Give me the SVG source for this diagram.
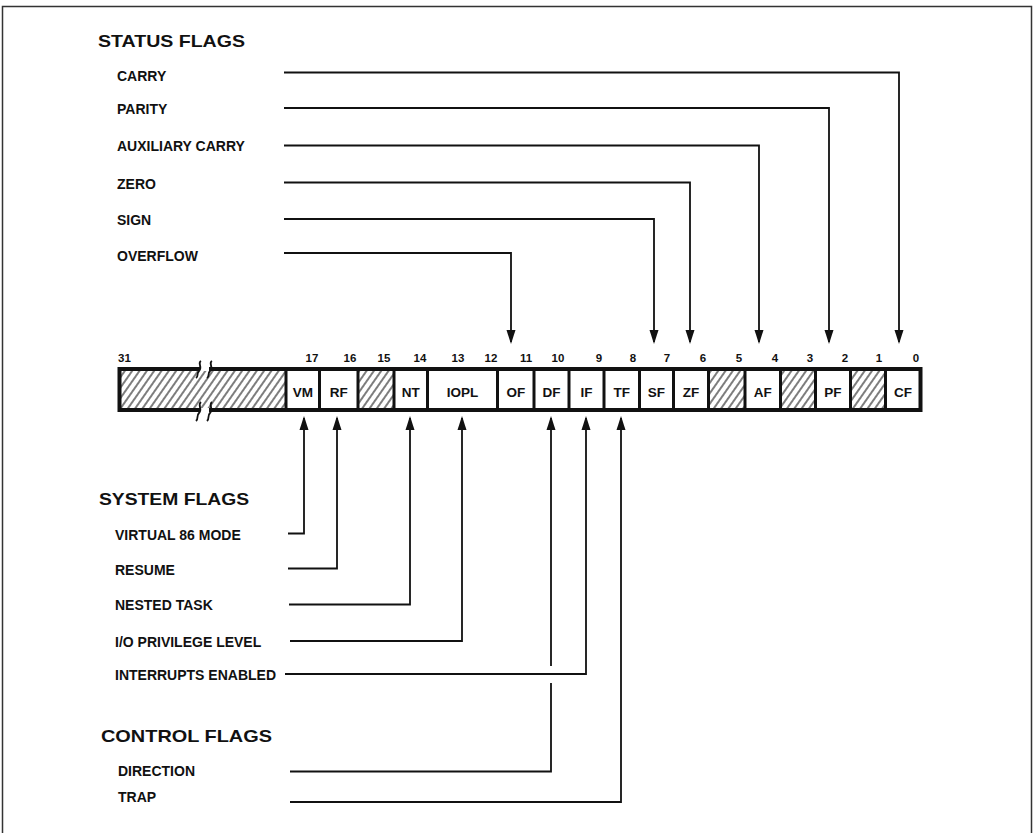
<svg xmlns="http://www.w3.org/2000/svg" width="1035" height="833" viewBox="0 0 1035 833">
<defs>
<pattern id="hatch" patternUnits="userSpaceOnUse" width="6" height="6" patternTransform="rotate(35)">
<line x1="3" y1="-1" x2="3" y2="7" stroke="#111" stroke-width="1.1"/>
</pattern>
<marker id="arr" markerUnits="userSpaceOnUse" markerWidth="16" markerHeight="10" refX="12" refY="4.5" orient="auto" overflow="visible">
<path d="M0,0 L14,4.5 L0,9 Z" fill="#111"/>
</marker>
<style>
.t{font-family:"Liberation Sans",Arial,Helvetica,sans-serif;font-weight:bold;fill:#111}
.lbl{font-size:14px}
.hd{font-size:17px}
.num{font-size:11.5px;text-anchor:middle}
.cl{font-size:13.5px;text-anchor:middle}
.conn{fill:none;stroke:#111;stroke-width:1.8}
.dv{stroke:#111;stroke-width:3}
.hx{fill:url(#hatch)}
.frame{fill:none;stroke:#333;stroke-width:1.5}
</style>
</defs>
<rect width="1035" height="833" fill="#fff"/>
<path class="frame" d="M2.5,833 V6.5 H1031.5 V833"/>

<g id="headings">
<text class="t hd" x="98" y="47" textLength="147" lengthAdjust="spacingAndGlyphs">STATUS FLAGS</text>
<text class="t hd" x="99" y="505" textLength="150" lengthAdjust="spacingAndGlyphs">SYSTEM FLAGS</text>
<text class="t hd" x="101" y="742" textLength="171" lengthAdjust="spacingAndGlyphs">CONTROL FLAGS</text>
</g>

<g id="lbl-carry"><text class="t lbl" x="117" y="81">CARRY</text></g>
<g id="lbl-parity"><text class="t lbl" x="117" y="114">PARITY</text></g>
<g id="lbl-aux"><text class="t lbl" x="117" y="151">AUXILIARY CARRY</text></g>
<g id="lbl-zero"><text class="t lbl" x="117" y="189">ZERO</text></g>
<g id="lbl-sign"><text class="t lbl" x="117" y="225">SIGN</text></g>
<g id="lbl-overflow"><text class="t lbl" x="117" y="261">OVERFLOW</text></g>

<g id="lbl-vm"><text class="t lbl" x="115" y="540">VIRTUAL 86 MODE</text></g>
<g id="lbl-resume"><text class="t lbl" x="115" y="575">RESUME</text></g>
<g id="lbl-nt"><text class="t lbl" x="115" y="610">NESTED TASK</text></g>
<g id="lbl-iopl"><text class="t lbl" x="115" y="646.5">I/O PRIVILEGE LEVEL</text></g>
<g id="lbl-ie"><text class="t lbl" x="115" y="680">INTERRUPTS ENABLED</text></g>
<g id="lbl-dir"><text class="t lbl" x="118" y="776">DIRECTION</text></g>
<g id="lbl-trap"><text class="t lbl" x="118" y="802">TRAP</text></g>

<g id="register">
<rect class="hx" x="119.5" y="369" width="166.5" height="41"/>
<rect class="hx" x="358" y="369" width="36" height="41"/>
<rect class="hx" x="708.5" y="369" width="36.5" height="41"/>
<rect class="hx" x="780.5" y="369" width="35" height="41"/>
<rect class="hx" x="850.5" y="369" width="35" height="41"/>
<rect x="119.5" y="369" width="801" height="41" fill="none" stroke="#111" stroke-width="4"/>
<g id="dividers">
<line class="dv" x1="286" y1="369" x2="286" y2="410"/>
<line class="dv" x1="319.5" y1="369" x2="319.5" y2="410"/>
<line class="dv" x1="358" y1="369" x2="358" y2="410"/>
<line class="dv" x1="394" y1="369" x2="394" y2="410"/>
<line class="dv" x1="427.5" y1="369" x2="427.5" y2="410"/>
<line class="dv" x1="497.5" y1="369" x2="497.5" y2="410"/>
<line class="dv" x1="534" y1="369" x2="534" y2="410"/>
<line class="dv" x1="569" y1="369" x2="569" y2="410"/>
<line class="dv" x1="604" y1="369" x2="604" y2="410"/>
<line class="dv" x1="639.5" y1="369" x2="639.5" y2="410"/>
<line class="dv" x1="673.5" y1="369" x2="673.5" y2="410"/>
<line class="dv" x1="708.5" y1="369" x2="708.5" y2="410"/>
<line class="dv" x1="745" y1="369" x2="745" y2="410"/>
<line class="dv" x1="780.5" y1="369" x2="780.5" y2="410"/>
<line class="dv" x1="815.5" y1="369" x2="815.5" y2="410"/>
<line class="dv" x1="850.5" y1="369" x2="850.5" y2="410"/>
<line class="dv" x1="885.5" y1="369" x2="885.5" y2="410"/>
</g>
<g id="break">
<rect x="200" y="365" width="9" height="6" fill="#fff"/>
<rect x="200" y="408" width="9" height="6" fill="#fff"/>
<path class="conn" d="M201,361 C197,363 203,367 199,371 C196,374 199,376 196,378"/>
<path class="conn" d="M212,361 C208,363 214,367 210,371 C207,374 210,376 207,378"/>
<path class="conn" d="M201,402 C197,405 203,409 199,413 C196,416 199,418 196,421"/>
<path class="conn" d="M212,402 C208,405 214,409 210,413 C207,416 210,418 207,421"/>
</g>
</g>

<g id="cell-vm"><text class="t cl" x="302.75" y="396.5">VM</text></g>
<g id="cell-rf"><text class="t cl" x="338.75" y="396.5">RF</text></g>
<g id="cell-nt"><text class="t cl" x="410.75" y="396.5">NT</text></g>
<g id="cell-iopl"><text class="t cl" x="462.5" y="396.5">IOPL</text></g>
<g id="cell-of"><text class="t cl" x="515.75" y="396.5">OF</text></g>
<g id="cell-df"><text class="t cl" x="551.5" y="396.5">DF</text></g>
<g id="cell-if"><text class="t cl" x="586.5" y="396.5">IF</text></g>
<g id="cell-tf"><text class="t cl" x="621.75" y="396.5">TF</text></g>
<g id="cell-sf"><text class="t cl" x="656.5" y="396.5">SF</text></g>
<g id="cell-zf"><text class="t cl" x="691" y="396.5">ZF</text></g>
<g id="cell-af"><text class="t cl" x="762.75" y="396.5">AF</text></g>
<g id="cell-pf"><text class="t cl" x="833" y="396.5">PF</text></g>
<g id="cell-cf"><text class="t cl" x="903" y="396.5">CF</text></g>

<g id="bitnums">
<text class="t num" x="124.5" y="361.5">31</text>
<text class="t num" x="312" y="362">17</text>
<text class="t num" x="350" y="362">16</text>
<text class="t num" x="384" y="362">15</text>
<text class="t num" x="420" y="362">14</text>
<text class="t num" x="458" y="362">13</text>
<text class="t num" x="491" y="362">12</text>
<text class="t num" x="526" y="362">11</text>
<text class="t num" x="558" y="362">10</text>
<text class="t num" x="599" y="362">9</text>
<text class="t num" x="633" y="362">8</text>
<text class="t num" x="667" y="362">7</text>
<text class="t num" x="703" y="362">6</text>
<text class="t num" x="739" y="362">5</text>
<text class="t num" x="775" y="362">4</text>
<text class="t num" x="810" y="362">3</text>
<text class="t num" x="845" y="362">2</text>
<text class="t num" x="879" y="362">1</text>
<text class="t num" x="916" y="362">0</text>
</g>

<g id="connectors">
<path class="conn" marker-end="url(#arr)" d="M284,72.5 H899 V342"/>
<path class="conn" marker-end="url(#arr)" d="M284,108 H829 V342"/>
<path class="conn" marker-end="url(#arr)" d="M284,145.5 H759 V342"/>
<path class="conn" marker-end="url(#arr)" d="M284,182.5 H690 V342"/>
<path class="conn" marker-end="url(#arr)" d="M284,219 H654 V342"/>
<path class="conn" marker-end="url(#arr)" d="M284,253 H511 V342"/>

<path class="conn" marker-end="url(#arr)" d="M288,533.5 H304 V418"/>
<path class="conn" marker-end="url(#arr)" d="M288,568.5 H337 V418"/>
<path class="conn" marker-end="url(#arr)" d="M289,604.5 H410 V418"/>
<path class="conn" marker-end="url(#arr)" d="M290,641 H462 V418"/>
<path class="conn" marker-end="url(#arr)" d="M285,674 H586 V418"/>
<path class="conn" marker-end="url(#arr)" d="M551,666 V418"/>
<path class="conn" d="M290,771.5 H551 V683"/>
<path class="conn" marker-end="url(#arr)" d="M290,802 H621 V418"/>
</g>
</svg>
